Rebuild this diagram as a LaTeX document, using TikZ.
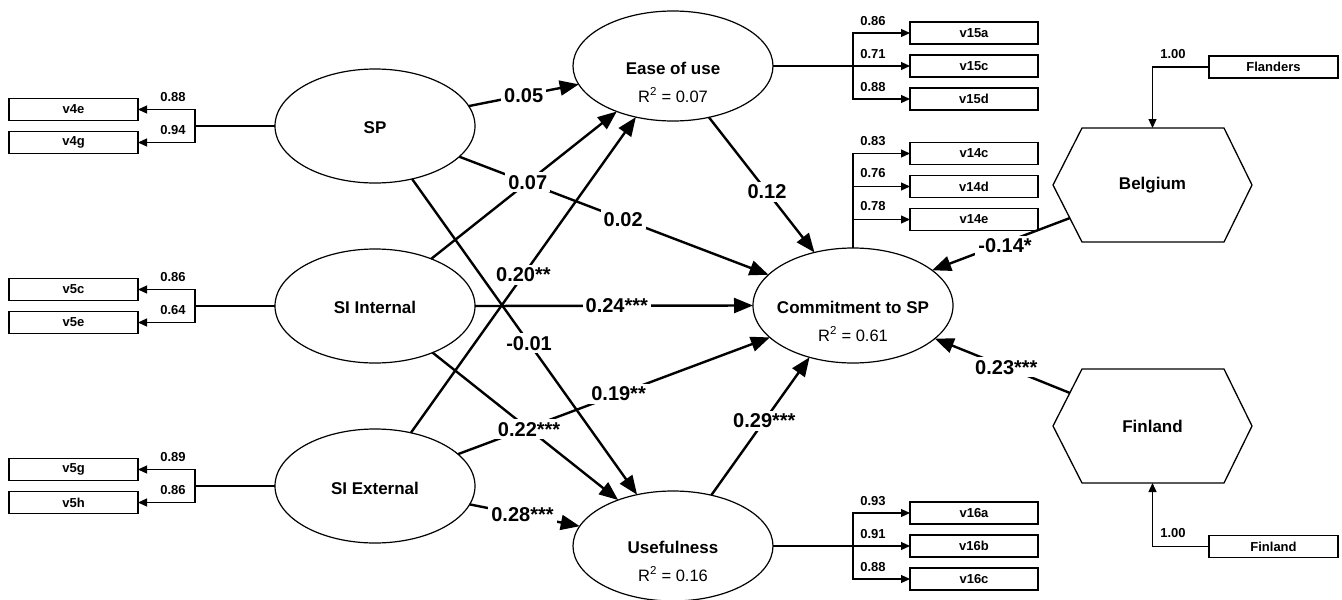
\documentclass[tikz,border=0pt]{standalone}
\usepackage{fontspec}
\setmainfont{Liberation Sans}
\usetikzlibrary{arrows.meta,shapes.geometric,calc}
\begin{document}
\begin{tikzpicture}[x=1pt,y=-1pt,
  lat/.style={ellipse,draw,line width=1.2pt,minimum width=200pt,minimum height=114pt,inner sep=0pt,outer sep=0pt},
  lattext/.style={font=\fontsize{17}{20}\selectfont\bfseries,align=center,inner sep=0pt},
  r2/.style={font=\fontsize{16.5}{19}\selectfont},
  indbox/.style={rectangle,draw,line width=1.3pt,minimum width=128pt,minimum height=22pt,inner sep=0pt,outer sep=0pt,font=\fontsize{13}{15}\selectfont\bfseries},
  hexbox/.style={rectangle,minimum width=199pt,minimum height=114pt,inner sep=0pt,outer sep=0pt,font=\fontsize{17}{20}\selectfont\bfseries},
  hexline/.style={line width=1.3pt,line join=miter},
  ll/.style={line width=1.2pt},
  ld/.style={line width=1.2pt,-{Triangle[length=9pt,width=8pt]}},
  ldl/.style={font=\fontsize{13}{15}\selectfont\bfseries,inner sep=0pt},
  sem/.style={line width=2.4pt,-{Triangle[length=19pt,width=15pt]}},
  coef/.style={font=\fontsize{20}{23}\selectfont\bfseries,fill=white,inner sep=3pt},
]
\useasboundingbox (0,0) rectangle (1342,600);

% latent variables
\node[lat] (sp)   at (375,126) {};
\node[lat] (sii)  at (375,306) {};
\node[lat] (sie)  at (375,486) {};
\node[lat,minimum height=110pt] (ease) at (673,66) {};
\node[lat,minimum height=110pt] (usef) at (673,546) {};
\node[lat,minimum height=115pt] (comm) at (853,305.5) {};
\node[lattext] (spT)  at (375,128) {SP};
\node[lattext] (siiT) at (375,307) {SI Internal};
\node[lattext] (sieT) at (375,488) {SI External};
\node[lattext] (easeT) at (673,68) {Ease of use};
\node[r2] (easeR) at (673,95) {R\textsuperscript{2} = 0.07};
\node[lattext] (usefT) at (673,547) {Usefulness};
\node[r2] (usefR) at (673,574) {R\textsuperscript{2} = 0.16};
\node[lattext] (commT) at (853,307) {Commitment to SP};
\node[r2] (commR) at (853,334) {R\textsuperscript{2} = 0.61};

% hexagons
\node[hexbox] (belgium) at (1152.5,185) {Belgium};
\node[hexbox] (finland) at (1152.5,426) {Finland};
\draw[hexline] (belgium.west) -- ([xshift=29pt]belgium.north west) -- ([xshift=-28pt]belgium.north east) -- (belgium.east) -- ([xshift=-28pt]belgium.south east) -- ([xshift=29pt]belgium.south west) -- cycle;
\draw[hexline] (finland.west) -- ([xshift=29pt]finland.north west) -- ([xshift=-28pt]finland.north east) -- (finland.east) -- ([xshift=-28pt]finland.south east) -- ([xshift=29pt]finland.south west) -- cycle;
\coordinate (belSW) at ($(belgium.west)!0.58!([xshift=29pt]belgium.south west)$);
\coordinate (finNW) at ($(finland.west)!0.58!([xshift=29pt]finland.north west)$);

% indicator boxes
\node[indbox,minimum width=129pt] (v4e) at (73.5,109.5) {v4e};
\node[indbox,minimum width=129pt] (v4g) at (73.5,142.5) {v4g};
\node[indbox,minimum width=129pt] (v5c) at (73.5,289.5) {v5c};
\node[indbox,minimum width=129pt] (v5e) at (73.5,322.5) {v5e};
\node[indbox,minimum width=129pt] (v5g) at (73.5,469.5) {v5g};
\node[indbox,minimum width=129pt] (v5h) at (73.5,502.5) {v5h};
\node[indbox] (v15a) at (974,33) {v15a};
\node[indbox] (v15c) at (974,66) {v15c};
\node[indbox] (v15d) at (974,99) {v15d};
\node[indbox] (v14c) at (974,153.5) {v14c};
\node[indbox] (v14d) at (974,186.5) {v14d};
\node[indbox] (v14e) at (974,219.5) {v14e};
\node[indbox] (v16a) at (974,513) {v16a};
\node[indbox] (v16b) at (974,546) {v16b};
\node[indbox] (v16c) at (974,579) {v16c};
\node[indbox,minimum width=129pt] (flanders) at (1273.5,67) {Flanders};
\node[indbox,minimum width=129pt] (finbox) at (1273.5,546.5) {Finland};

% measurement connectors (left)
\coordinate (bSP) at (195,126);
\coordinate (bSII) at (195,306);
\coordinate (bSIE) at (195,486);
\draw[ll] (sp.west) -- (bSP);
\draw[ld] (bSP) |- (v4e.east);
\draw[ld] (bSP) |- (v4g.east);
\draw[ll] (sii.west) -- (bSII);
\draw[ld] (bSII) |- (v5c.east);
\draw[ld] (bSII) |- (v5e.east);
\draw[ll] (sie.west) -- (bSIE);
\draw[ld] (bSIE) |- (v5g.east);
\draw[ld] (bSIE) |- (v5h.east);
\node[ldl] (l88a) at (173,97) {0.88};
\node[ldl] (l94)  at (173,130) {0.94};
\node[ldl] (l86a) at (173,277) {0.86};
\node[ldl] (l64)  at (173,310) {0.64};
\node[ldl] (l89)  at (173,457) {0.89};
\node[ldl] (l86b) at (173,490) {0.86};

% measurement connectors (right)
\coordinate (bE) at (853,66);
\coordinate (bU) at (853,546);
\draw[ld] (ease.east) -- (v15c.west);
\draw[ld] (bE) |- (v15a.west);
\draw[ld] (bE) |- (v15d.west);
\draw[ld] (comm.north) |- (v14c.west);
\draw[ld] (comm.north) |- (v14d.west);
\draw[ld] (comm.north) |- (v14e.west);
\draw[ld] (usef.east) -- (v16b.west);
\draw[ld] (bU) |- (v16a.west);
\draw[ld] (bU) |- (v16c.west);
\node[ldl] (l86c) at (873,21) {0.86};
\node[ldl] (l71)  at (873,54) {0.71};
\node[ldl] (l88b) at (873,87) {0.88};
\node[ldl] (l83)  at (873,141) {0.83};
\node[ldl] (l76)  at (873,173) {0.76};
\node[ldl] (l78)  at (873,206) {0.78};
\node[ldl] (l93)  at (873,501) {0.93};
\node[ldl] (l91)  at (873,534) {0.91};
\node[ldl] (l88c) at (873,567) {0.88};
\draw[ld] (flanders.west) -| (belgium.north);
\draw[ld] (finbox.west) -| (finland.south);
\node[ldl] (l100a) at (1173,54) {1.00};
\node[ldl] (l100b) at (1173,533) {1.00};

% structural paths
\draw[sem] (sp.12)  -- (ease.191);
\draw[sem] (sp.-20) -- (comm.160);
\draw[sem] (sp.-55) -- (usef.125);
\draw[sem] (sii.40) -- (ease.219);
\draw[sem] (sii.east) -- (comm.west);
\draw[sem] (sii.-39) -- (usef.140);
\draw[sem] (sie.56) -- (ease.234);
\draw[sem] (sie.21) -- (comm.201);
\draw[sem] (sie.-11) -- (usef.168);
\draw[sem] (ease.-55) -- (comm.126);
\draw[sem] (usef.53) -- (comm.230);
\draw[sem] (belSW) -- (comm.24);
\draw[sem] (finNW) -- (comm.-22);

% coefficients
\path (sp.12)  -- (ease.191) node[coef,pos=0.5] (c1) {0.05};
\path (sp.-20) -- (comm.160) node[coef,pos=0.53] (c2) {0.02};
\path (sp.-55) -- (usef.125) node[coef,pos=0.52] (c3) {-0.01};
\path (sii.40) -- (ease.219) node[coef,pos=0.52] (c4) {0.07};
\path (sii.east) -- (comm.west) node[coef,pos=0.51] (c5) {0.24***};
\path (sii.-39) -- (usef.140) node[coef,pos=0.52] (c6) {0.22***};
\path (sie.56) -- (ease.234) node[coef,pos=0.5] (c7) {0.20**};
\path (sie.21) -- (comm.201) node[coef,pos=0.515] (c8) {0.19**};
\path (sie.-11) -- (usef.168) node[coef,pos=0.48] (c9) {0.28***};
\path (ease.-55) -- (comm.126) node[coef,pos=0.55] (c10) {0.12};
\path (usef.53) -- (comm.230) node[coef,pos=0.54] (c11) {0.29***};
\path (belSW) -- (comm.24) node[coef,pos=0.47,yshift=-3pt] (c12) {-0.14*};
\path (finNW) -- (comm.-22) node[coef,pos=0.47] (c13) {0.23***};
\end{tikzpicture}
\end{document}
